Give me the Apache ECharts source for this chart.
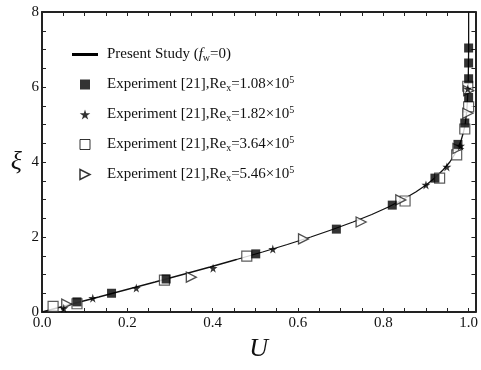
<!DOCTYPE html>
<html>
<head>
<meta charset="utf-8">
<script src="https://cdn.jsdelivr.net/npm/echarts@6/dist/echarts.min.js"></script>
<style>
  html, body { margin: 0; padding: 0; background: #fff; }
  #chart { width: 481px; height: 370px; }
</style>
</head>
<body>
<div id="chart"></div>
<script>
// present study curve (xi, U)
const lineXi = [0, 0.2, 0.4, 0.6, 0.8, 1.0, 1.2, 1.4, 1.6, 1.8, 2.0, 2.2, 2.4, 2.6, 2.8, 3.0, 3.2, 3.4, 3.6, 3.8, 4.0, 4.2, 4.4, 4.6, 4.8, 5.0, 5.4, 6.0, 7.0, 8.0];
const lineU = [0, 0.066, 0.133, 0.199, 0.265, 0.330, 0.394, 0.456, 0.517, 0.575, 0.630, 0.681, 0.729, 0.773, 0.812, 0.846, 0.876, 0.902, 0.923, 0.941, 0.956, 0.967, 0.976, 0.983, 0.988, 0.992, 0.996, 0.999, 1.0, 1.0];

// experiment points [U, xi]
const re108 = [[0.082, 0.27], [0.163, 0.50], [0.291, 0.88], [0.501, 1.55], [0.690, 2.21], [0.821, 2.85], [0.921, 3.57], [0.975, 4.47], [0.991, 5.04], [1.0, 5.72], [1.0, 6.22], [1.0, 6.64], [1.0, 7.04]];
const re182 = [[0.051, 0.10], [0.119, 0.37], [0.221, 0.64], [0.401, 1.17], [0.541, 1.68], [0.900, 3.39], [0.949, 3.87], [0.981, 4.43], [0.998, 5.95]];
const re364 = [[0.026, 0.15], [0.082, 0.22], [0.287, 0.85], [0.480, 1.49], [0.851, 2.96], [0.932, 3.57], [0.972, 4.19], [0.991, 4.88], [1.0, 5.47], [0.998, 6.02]];
const re546 = [[0.058, 0.21], [0.350, 0.93], [0.613, 1.95], [0.748, 2.40], [0.841, 2.99], [0.975, 4.36], [0.998, 5.30], [1.0, 5.90]];

const xTickLabels = ['0.0', '0.2', '0.4', '0.6', '0.8', '1.0'];
const yTickLabels = ['0', '2', '4', '6', '8'];

const names = ['Present Study', 'Re1', 'Re2', 'Re3', 'Re4'];
const legendText = {
  'Present Study': '{t|Present Study (}{i|f}{sub|w}{t|=0)}',
  'Re1': '{t|Experiment [21],Re}{sub|x}{t|=1.08×10}{sup|5}',
  'Re2': '{t|Experiment [21],Re}{sub|x}{t|=1.82×10}{sup|5}',
  'Re3': '{t|Experiment [21],Re}{sub|x}{t|=3.64×10}{sup|5}',
  'Re4': '{t|Experiment [21],Re}{sub|x}{t|=5.46×10}{sup|5}'
};

const serif = '"Liberation Serif", "DejaVu Serif", serif';
const starPath = 'path://M50,0 L61,35 L98,35 L68,57 L79,91 L50,70 L21,91 L32,57 L2,35 L39,35 Z';
const triPath = 'path://M0,0 L10,5 L0,10 Z';
const sqPath = 'path://M0,0 L10,0 L10,10 L0,10 Z';
const linePath = 'path://M0,0 L26,0 L26,3 L0,3 Z';

const chart = echarts.init(document.getElementById('chart'));

const frame = { show: true, onZero: false, lineStyle: { color: '#222', width: 2 } };
const ticks = { show: true, inside: true, length: 4, lineStyle: { color: '#222', width: 1 } };

function xFmt(v) {
  const k = Math.round(v / 0.2);
  return Math.abs(v - k * 0.2) < 1e-6 ? xTickLabels[k] || '' : '';
}
function yFmt(v) {
  const k = Math.round(v / 2);
  return Math.abs(v - k * 2) < 1e-6 ? yTickLabels[k] || '' : '';
}

chart.setOption({
  animation: false,
  backgroundColor: '#fff',
  grid: { left: 42, right: 3, top: 12, bottom: 58 },
  legend: {
    orient: 'vertical',
    left: 67,
    top: 42,
    itemWidth: 26,
    itemHeight: 10,
    itemGap: 12,
    data: [
      { name: names[0], icon: linePath, itemStyle: { color: '#000' } },
      { name: names[1], icon: sqPath, itemStyle: { color: '#000' } },
      { name: names[2], icon: starPath, itemStyle: { color: '#000' } },
      { name: names[3], icon: sqPath, itemStyle: { color: '#fff', borderColor: '#000', borderWidth: 1 } },
      { name: names[4], icon: triPath, itemStyle: { color: '#fff', borderColor: '#000', borderWidth: 1.5 } }
    ],
    formatter: n => legendText[n],
    textStyle: {
      padding: [0, 0, 0, 4],
      rich: {
        t: { fontFamily: serif, fontSize: 15, color: '#111', lineHeight: 18 },
        i: { fontFamily: serif, fontSize: 15, fontStyle: 'italic', color: '#111', lineHeight: 18 },
        sub: { fontFamily: serif, fontSize: 10, color: '#111', verticalAlign: 'bottom', lineHeight: 10, padding: [6, 0, 0, 0] },
        sup: { fontFamily: serif, fontSize: 10, color: '#111', verticalAlign: 'top', lineHeight: 10, padding: [0, 0, 6, 0] }
      }
    }
  },
  xAxis: [
    {
      type: 'value', min: 0, max: 1.016, interval: 0.05,
      axisLine: frame, axisTick: ticks, splitLine: { show: false },
      axisLabel: { formatter: xFmt, fontFamily: serif, fontSize: 15, color: '#111', margin: 4, showMaxLabel: false },
      name: 'U', nameLocation: 'middle', nameGap: 24,
      nameTextStyle: { fontFamily: serif, fontSize: 26, fontStyle: 'italic', color: '#111' }
    },
    {
      type: 'value', position: 'top', min: 0, max: 1.016, interval: 0.05,
      axisLine: frame, axisTick: ticks, splitLine: { show: false }, axisLabel: { show: false }
    }
  ],
  yAxis: [
    {
      type: 'value', min: 0, max: 8, interval: 0.5,
      axisLine: frame, axisTick: ticks, splitLine: { show: false },
      axisLabel: { formatter: yFmt, fontFamily: serif, fontSize: 15, color: '#111', margin: 3 },
      name: 'ξ', nameLocation: 'middle', nameGap: 20, nameRotate: 0,
      nameTextStyle: { fontFamily: serif, fontSize: 26, fontStyle: 'italic', color: '#111' }
    },
    {
      type: 'value', position: 'right', min: 0, max: 8, interval: 0.5,
      axisLine: frame, axisTick: ticks, splitLine: { show: false }, axisLabel: { show: false }
    }
  ],
  series: [
    {
      name: names[0], type: 'line', showSymbol: false, z: 2,
      data: lineU.map((u, i) => [u, lineXi[i]]),
      lineStyle: { color: '#111', width: 1.3 }, itemStyle: { color: '#000' }
    },
    {
      name: names[3], type: 'scatter', symbol: 'rect', symbolSize: 10, z: 3,
      data: re364,
      itemStyle: { color: '#fff', borderColor: '#333', borderWidth: 1.2 }
    },
    {
      name: names[4], type: 'scatter', symbol: triPath, symbolSize: [10, 10], z: 4,
      data: re546,
      itemStyle: { color: '#fff', borderColor: '#222', borderWidth: 1.3 }
    },
    {
      name: names[1], type: 'scatter', symbol: 'rect', symbolSize: 9, z: 5,
      data: re108,
      itemStyle: { color: '#000' }
    },
    {
      name: names[2], type: 'scatter', symbol: starPath, symbolSize: 9, z: 6,
      data: re182,
      itemStyle: { color: '#000' }
    }
  ]
});
</script>
</body>
</html>
